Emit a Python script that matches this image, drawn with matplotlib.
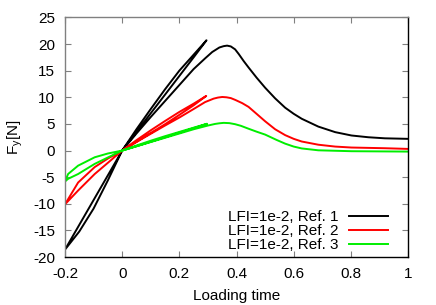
import numpy as np
import matplotlib.pyplot as plt

plt.rcParams['font.family'] = ['Liberation Sans', 'DejaVu Sans']
plt.rcParams['font.size'] = 11

# each series: loop 0 -> +tip -> 0 -> -tip -> 0, then main curve 0 -> peak -> decay
x_ref1 = [0, 0.05, 0.1, 0.15, 0.2, 0.25, 0.295,
          0.25, 0.2, 0.15, 0.1, 0.05, 0,
          -0.05, -0.1, -0.15, -0.2,
          -0.15, -0.1, -0.05, 0,
          0.05, 0.1, 0.15, 0.2, 0.25, 0.29, 0.315, 0.34, 0.355, 0.367, 0.38,
          0.395, 0.408, 0.425, 0.442, 0.47, 0.5, 0.535, 0.57, 0.6, 0.628,
          0.686, 0.745, 0.802, 0.861, 0.919, 1.0]
y_ref1 = [0, 4.0, 7.8, 11.5, 15.0, 18.0, 20.7,
          17.5, 14.0, 10.5, 7.0, 3.5, 0,
          -4.65, -9.3, -13.95, -18.6,
          -15.2, -10.9, -5.6, 0,
          3.2, 6.3, 9.3, 12.3, 15.3, 17.3, 18.5, 19.35, 19.6, 19.7, 19.55,
          19.0, 18.1, 16.8, 15.6, 13.7, 11.8, 9.8, 8.05, 6.9, 5.97,
          4.5, 3.46, 2.83, 2.5, 2.3, 2.2]

x_ref2 = [0, 0.05, 0.1, 0.15, 0.2, 0.25, 0.294,
          0.25, 0.2, 0.15, 0.1, 0.05, 0,
          -0.05, -0.096, -0.154, -0.2,
          -0.154, -0.096, -0.05, 0,
          0.05, 0.1, 0.15, 0.2, 0.25, 0.29, 0.32, 0.335, 0.35, 0.365, 0.38,
          0.396, 0.42, 0.442, 0.47, 0.5, 0.535, 0.57, 0.6, 0.628, 0.686,
          0.745, 0.802, 0.919, 1.0]
y_ref2 = [0, 1.95, 3.8, 5.55, 7.25, 8.8, 10.25,
          8.5, 6.7, 4.95, 3.3, 1.65, 0,
          -1.5, -3.1, -6.0, -10.1,
          -7.5, -4.4, -2.3, 0,
          1.6, 3.15, 4.7, 6.2, 7.8, 9.1, 9.75, 9.95, 10.06, 10.0, 9.85,
          9.5, 8.9, 8.2, 6.9, 5.5, 4.0, 2.9, 2.2, 1.7, 1.1,
          0.75, 0.57, 0.44, 0.31]

x_ref3 = [0, 0.05, 0.1, 0.15, 0.2, 0.25, 0.297,
          0.25, 0.2, 0.15, 0.1, 0.05, 0,
          -0.05, -0.096, -0.154, -0.189, -0.2,
          -0.189, -0.154, -0.096, -0.05, 0,
          0.05, 0.1, 0.15, 0.2, 0.25, 0.3, 0.325, 0.34, 0.355, 0.375, 0.395,
          0.415, 0.442, 0.47, 0.5, 0.54, 0.57, 0.6, 0.628, 0.686, 0.802, 1.0]
y_ref3 = [0, 0.95, 1.85, 2.7, 3.5, 4.3, 5.03,
          4.2, 3.35, 2.5, 1.65, 0.8, 0,
          -0.55, -1.26, -2.83, -4.4, -5.8,
          -5.3, -4.4, -2.5, -1.3, 0,
          0.8, 1.6, 2.4, 3.2, 4.0, 4.7, 5.0, 5.12, 5.2, 5.15, 4.95,
          4.65, 4.1, 3.55, 3.0, 2.0, 1.3, 0.75, 0.4, 0.05, -0.12, -0.19]

labels = ['LFI=1e-2, Ref. 1', 'LFI=1e-2, Ref. 2', 'LFI=1e-2, Ref. 3']
colors = ['black', '#ff0000', '#00ee00']

fig = plt.figure(figsize=(4.36, 3.05), dpi=100)
ax = fig.add_axes([0.149, 0.157, 0.787, 0.786])

for xs, ys, lab, c in zip([x_ref1, x_ref2, x_ref3], [y_ref1, y_ref2, y_ref3], labels, colors):
    ax.plot(xs, ys, color=c, lw=1.4, label=lab)

ax.set_xlim(-0.2, 1)
ax.set_ylim(-20, 25)
ax.set_xticks([-0.2, 0, 0.2, 0.4, 0.6, 0.8, 1])
ax.set_xticklabels(['-0.2', '0', '0.2', '0.4', '0.6', '0.8', '1'])
ax.set_yticks(np.arange(-20, 26, 5))
ax.set_yticklabels([str(v) for v in range(-20, 26, 5)])
ax.tick_params(direction='in', length=4, width=0.8, color='#808080',
               top=True, right=True, pad=7, labelsize=11)

ax.spines['left'].set_color('#808080')
ax.spines['top'].set_color('#808080')
for s in ax.spines.values():
    s.set_linewidth(1.0)

ax.set_xlabel('Loading time', fontsize=11, labelpad=6)
ax.set_ylabel(r'F$_\mathregular{y}$[N]', fontsize=11, labelpad=6)

ax.legend(loc='lower right', frameon=False, markerfirst=False, fontsize=11,
          handlelength=2.55, handletextpad=0.7, labelspacing=0.0,
          borderaxespad=0.0, bbox_to_anchor=(0.96, -0.005))

fig.savefig('out.png', dpi=100)
